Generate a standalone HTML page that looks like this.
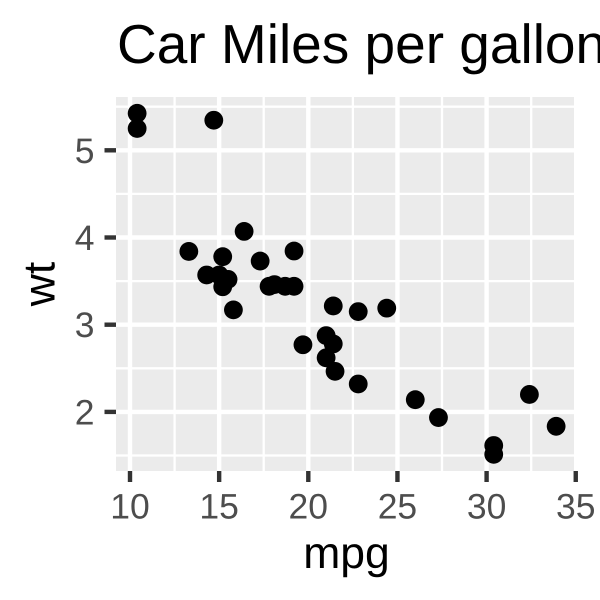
<!DOCTYPE html>
<html>
<head>
<meta charset="utf-8">
<style>
html,body{margin:0;padding:0;background:#fff;width:600px;height:600px;overflow:hidden}
svg{display:block}
text{font-family:"Liberation Sans",Arial,sans-serif;text-rendering:geometricPrecision}
</style>
</head>
<body>
<svg id="chart" width="600" height="600" viewBox="0 0 600 600" xmlns="http://www.w3.org/2000/svg">
<rect x="0" y="0" width="600" height="600" fill="#fff"/>
<rect x="116" y="97" width="458" height="374" fill="#ebebeb"/>
<g id="grid"></g>
<g id="points"></g>
<g id="xaxis"></g>
<g id="yaxis"></g>
<text x="117" y="63" font-size="55" fill="#000">Car Miles per gallon</text>
<text x="346.5" y="568" font-size="44.5" text-anchor="middle" fill="#000">mpg</text>
<text transform="translate(54.5 284) rotate(-90)" font-size="44.5" text-anchor="middle" fill="#000">wt</text>
</svg>
<script>
const mpgValues = [21,21,22.8,21.4,18.7,18.1,14.3,24.4,22.8,19.2,17.8,16.4,17.3,15.2,10.4,10.4,14.7,32.4,30.4,33.9,21.5,15.5,15.2,13.3,19.2,27.3,26,30.4,15.8,19.7,15,21.4];
const wtValues = [2.62,2.875,2.32,3.215,3.44,3.46,3.57,3.19,3.15,3.44,3.44,4.07,3.73,3.78,5.25,5.424,5.345,2.2,1.615,1.835,2.465,3.52,3.435,3.84,3.845,1.935,2.14,1.513,3.17,2.77,3.57,2.78];
const xTicks = [10,15,20,25,30,35];
const yTicks = [2,3,4,5];
const xMinor = [12.5,17.5,22.5,27.5,32.5];
const yMinor = [1.5,2.5,3.5,4.5,5.5];

const NS = 'http://www.w3.org/2000/svg';
const xScale = v => 130 + (v - 10) * 17.83;
const yScale = v => 150.3 + (5 - v) * 87.2;
const PANEL = {left:116, right:574, top:97, bottom:471};

function make(parent, tag, attrs) {
  const el = document.createElementNS(NS, tag);
  for (const k in attrs) el.setAttribute(k, attrs[k]);
  parent.appendChild(el);
  return el;
}
const grid = document.getElementById('grid');
const pts = document.getElementById('points');
const xa = document.getElementById('xaxis');
const ya = document.getElementById('yaxis');

yMinor.forEach(v => {
  const el = make(grid, 'line', {x1:PANEL.left, x2:PANEL.right, y1:yScale(v), y2:yScale(v), stroke:'#fff', 'stroke-width':2.3});
  
  
});
xMinor.forEach(v => {
  const el = make(grid, 'line', {x1:xScale(v), x2:xScale(v), y1:PANEL.top, y2:PANEL.bottom, stroke:'#fff', 'stroke-width':2.3});
  
  
});
yTicks.forEach(v => {
  const el = make(grid, 'line', {x1:PANEL.left, x2:PANEL.right, y1:yScale(v), y2:yScale(v), stroke:'#fff', 'stroke-width':4.4});
  
  
  const t = make(ya, 'line', {x1:104.5, x2:116, y1:yScale(v), y2:yScale(v), stroke:'#333', 'stroke-width':4.4});
  
  
  const l = make(ya, 'text', {x:94.5, y:yScale(v) + 12.5, 'font-size':35.5, 'text-anchor':'end', fill:'#4d4d4d'});
  
  
  l.textContent = v;
});
xTicks.forEach(v => {
  if (xScale(v) < PANEL.right) {
    const el = make(grid, 'line', {x1:xScale(v), x2:xScale(v), y1:PANEL.top, y2:PANEL.bottom, stroke:'#fff', 'stroke-width':4.4});
    
    
  }
  const t = make(xa, 'line', {x1:xScale(v), x2:xScale(v), y1:471, y2:482, stroke:'#333', 'stroke-width':4.4});
  
  
  const l = make(xa, 'text', {x:xScale(v), y:518.3, 'font-size':35.5, 'text-anchor':'middle', fill:'#4d4d4d'});
  
  
  l.textContent = v;
});
mpgValues.forEach((m, i) => {
  const c = make(pts, 'circle', {cx:xScale(m), cy:yScale(wtValues[i]), r:9.4, fill:'#000'});
  
  
});
</script>
</body>
</html>
